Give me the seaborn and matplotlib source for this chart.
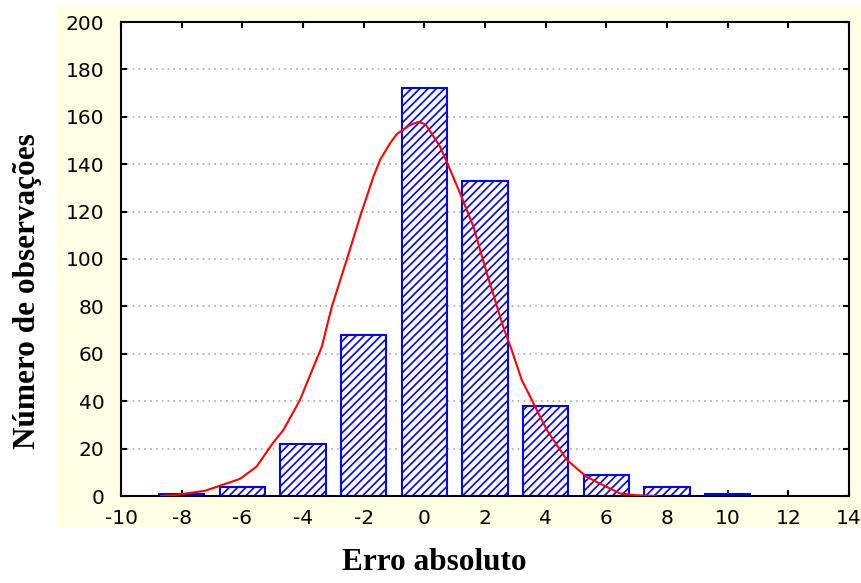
import matplotlib
matplotlib.use('Agg')

import pandas as pd
import matplotlib.pyplot as plt
import seaborn as sns

# histogram of absolute error (bin centres, counts)
bin_centers = [-8, -6, -4, -2, 0, 2, 4, 6, 8, 10]
counts = [1, 4, 22, 68, 172, 133, 38, 9, 4, 1]
bin_edges = [-9, -7, -5, -3, -1, 1, 3, 5, 7, 9, 11]

# fitted curve
curve_x = [-8.7, -8.16, -7.23, -6.08, -5.53, -4.99, -4.65, -4.10, -3.83, -3.38,
           -3.05, -2.56, -2.12, -1.68, -1.46, -1.13, -0.91, -0.47, -0.20, 0.04,
           0.52, 0.74, 1.18, 1.62, 2.06, 2.60, 2.88, 3.21, 3.49, 4.04,
           4.70, 5.35, 6.00, 6.45, 7.0, 7.66]
curve_y = [0, 0.5, 2.2, 7.2, 12.4, 22.4, 27.8, 40.5, 49, 63,
           79.9, 99.6, 117.8, 134.7, 141.8, 148.8, 152.7, 156.5, 157.9, 156.8,
           147.4, 141, 127.7, 113.6, 94, 71.4, 61.6, 49, 41.9, 27.8,
           15.2, 8.1, 3.9, 1.1, 0.3, 0]

x_ticks = list(range(-10, 15, 2))
y_ticks = list(range(0, 201, 20))

sns.set_style("white")
plt.rcParams['font.family'] = ['DejaVu Sans']
plt.rcParams['axes.unicode_minus'] = False
plt.rcParams['text.color'] = 'black'
plt.rcParams['axes.labelcolor'] = 'black'
plt.rcParams['hatch.color'] = 'blue'
plt.rcParams['hatch.linewidth'] = 1.2

fig = plt.figure(figsize=(8.61, 5.83), dpi=100)
fig.patch.set_facecolor('white')
# cream panel behind the axes
fig.patches.append(plt.Rectangle((57 / 861, 55 / 583), 1 - 57 / 861, 523 / 583,
                                 transform=fig.transFigure, facecolor='#FFFFE4',
                                 edgecolor='none', zorder=-5))

ax = fig.add_axes([121 / 861, 87 / 583, 728 / 861, 474 / 583])
ax.set_facecolor('white')

df = pd.DataFrame({"erro": bin_centers, "n": counts})
sns.histplot(data=df, x="erro", weights="n", bins=bin_edges,
             shrink=0.75, color='white', edgecolor='blue', linewidth=1.5,
             hatch='////', alpha=1, ax=ax, zorder=2)

sns.lineplot(x=curve_x, y=curve_y, color='red', linewidth=1.5, ax=ax,
             sort=False, zorder=3)

ax.set_xlim(-10, 14)
ax.set_ylim(0, 200)
ax.set_xticks(x_ticks)
ax.set_yticks(y_ticks)
ax.yaxis.grid(True, linestyle=(0, (1, 2.5)), color='#AAAAAA', linewidth=1.2, zorder=1)
ax.set_axisbelow(True)

for s in ax.spines.values():
    s.set_visible(True)
    s.set_color('black')
    s.set_linewidth(1.5)

ax.tick_params(axis='both', direction='in', top=True, right=True, bottom=True,
               left=True, length=4, width=1.5, labelsize=14.5, colors='black')
ax.tick_params(axis='y', pad=12)
ax.tick_params(axis='x', pad=9)

ax.set_xlabel("Erro absoluto", fontsize=22.5, fontweight='bold',
              family='Liberation Serif', color='black')
ax.set_ylabel("Número de observações", fontsize=22.5, fontweight='bold',
              family='Liberation Serif', color='black')
ax.xaxis.label.set_va('center')
ax.yaxis.label.set_va('center')
ax.xaxis.set_label_coords(0.431, -0.141)
ax.yaxis.set_label_coords(-0.128, 0.4325)

fig.savefig("out.png", dpi=100, facecolor=fig.get_facecolor())
